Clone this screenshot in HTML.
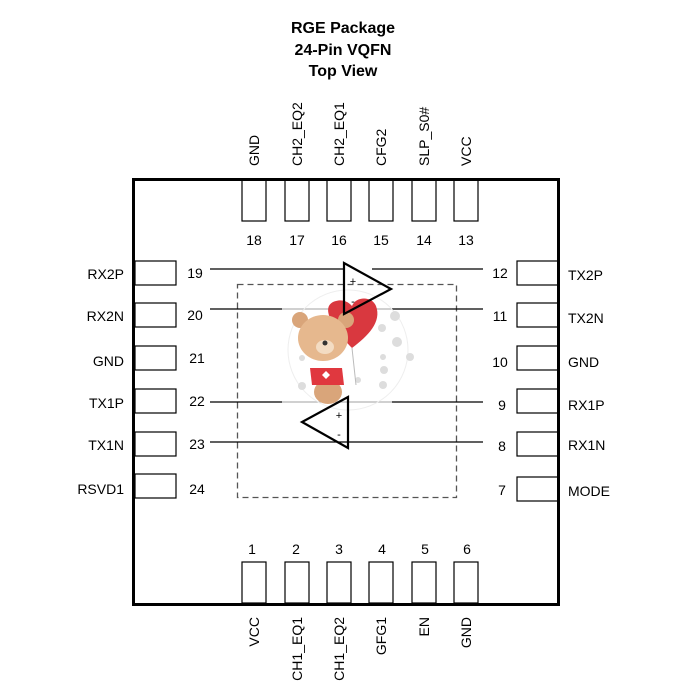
<!DOCTYPE html>
<html><head><meta charset="utf-8"><style>html,body{margin:0;padding:0;background:#fff}svg{display:block}</style></head>
<body>
<svg width="700" height="700" viewBox="0 0 700 700" xmlns="http://www.w3.org/2000/svg" font-family="Liberation Sans, Arial, sans-serif">
<g font-weight="bold" font-size="16" text-anchor="middle" fill="#000">
<text x="343" y="33">RGE Package</text>
<text x="343" y="55">24-Pin VQFN</text>
<text x="343" y="76">Top View</text>
</g>
<rect x="133.5" y="179.5" width="425" height="425" fill="none" stroke="#000" stroke-width="3"/>
<g fill="none" stroke="#000" stroke-width="1.2">
<rect x="242" y="180" width="24" height="41"/><rect x="285" y="180" width="24" height="41"/><rect x="327" y="180" width="24" height="41"/><rect x="369" y="180" width="24" height="41"/><rect x="412" y="180" width="24" height="41"/><rect x="454" y="180" width="24" height="41"/>
<rect x="242" y="562" width="24" height="41"/><rect x="285" y="562" width="24" height="41"/><rect x="327" y="562" width="24" height="41"/><rect x="369" y="562" width="24" height="41"/><rect x="412" y="562" width="24" height="41"/><rect x="454" y="562" width="24" height="41"/>
<rect x="135" y="261" width="41" height="24"/><rect x="135" y="303" width="41" height="24"/><rect x="135" y="346" width="41" height="24"/><rect x="135" y="389" width="41" height="24"/><rect x="135" y="432" width="41" height="24"/><rect x="135" y="474" width="41" height="24"/>
<rect x="517" y="261" width="41" height="24"/><rect x="517" y="303" width="41" height="24"/><rect x="517" y="346" width="41" height="24"/><rect x="517" y="389" width="41" height="24"/><rect x="517" y="432" width="41" height="24"/><rect x="517" y="477" width="41" height="24"/>
</g>
<g font-size="14" fill="#000">
<g text-anchor="middle">
<text x="254" y="245">18</text><text x="297" y="245">17</text><text x="339" y="245">16</text><text x="381" y="245">15</text><text x="424" y="245">14</text><text x="466" y="245">13</text>
<text x="252" y="554">1</text><text x="296" y="554">2</text><text x="339" y="554">3</text><text x="382" y="554">4</text><text x="425" y="554">5</text><text x="467" y="554">6</text>
<text x="195" y="278">19</text><text x="195" y="320">20</text><text x="197" y="363">21</text><text x="197" y="406">22</text><text x="197" y="449">23</text><text x="197" y="494">24</text>
<text x="500" y="278">12</text><text x="500" y="321">11</text><text x="500" y="367">10</text><text x="502" y="410">9</text><text x="502" y="451">8</text><text x="502" y="495">7</text>
</g>
<g text-anchor="end">
<text x="124" y="279">RX2P</text><text x="124" y="321">RX2N</text><text x="124" y="366">GND</text><text x="124" y="408">TX1P</text><text x="124" y="450">TX1N</text><text x="124" y="494">RSVD1</text>
</g>
<g text-anchor="start">
<text x="568" y="280">TX2P</text><text x="568" y="323">TX2N</text><text x="568" y="367">GND</text><text x="568" y="410">RX1P</text><text x="568" y="450">RX1N</text><text x="568" y="496">MODE</text>
</g>
<g text-anchor="start">
<text transform="translate(259,166) rotate(-90)">GND</text>
<text transform="translate(302,166) rotate(-90)">CH2_EQ2</text>
<text transform="translate(344,166) rotate(-90)">CH2_EQ1</text>
<text transform="translate(386,166) rotate(-90)">CFG2</text>
<text transform="translate(429,166) rotate(-90)">SLP_S0#</text>
<text transform="translate(471,166) rotate(-90)">VCC</text>
</g>
<g text-anchor="end">
<text transform="translate(259,617) rotate(-90)">VCC</text>
<text transform="translate(302,617) rotate(-90)">CH1_EQ1</text>
<text transform="translate(344,617) rotate(-90)">CH1_EQ2</text>
<text transform="translate(386,617) rotate(-90)">GFG1</text>
<text transform="translate(429,617) rotate(-90)">EN</text>
<text transform="translate(471,617) rotate(-90)">GND</text>
</g>
</g>
<rect x="237.5" y="284.5" width="219" height="213" fill="none" stroke="#555" stroke-width="1.3" stroke-dasharray="6,4"/>
<g stroke="#000" stroke-width="1.3" fill="none">
<line x1="210" y1="269" x2="344" y2="269"/><line x1="372" y1="269" x2="483" y2="269"/>
<line x1="210" y1="309" x2="483" y2="309"/>
<line x1="210" y1="402" x2="483" y2="402"/>
<line x1="210" y1="442" x2="483" y2="442"/>
</g>
<!-- bear illustration approximation -->
<g>
<rect x="282" y="290" width="110" height="120" fill="#fff" opacity="0.7"/>
<circle cx="348" cy="350" r="60" fill="none" stroke="#eee"/>
<g fill="#ddd"><circle cx="395" cy="316" r="5"/><circle cx="382" cy="328" r="4"/><circle cx="397" cy="342" r="5"/><circle cx="383" cy="357" r="3"/><circle cx="384" cy="370" r="4"/><circle cx="358" cy="380" r="3"/><circle cx="383" cy="385" r="4"/><circle cx="302" cy="358" r="3"/><circle cx="302" cy="386" r="4"/><circle cx="410" cy="357" r="4"/></g>
<path d="M352,348 C330,325 320,305 336,301 C346,298 352,306 352,306 C356,296 372,296 376,306 C382,322 368,336 352,348Z" fill="#d9383f"/>
<line x1="352" y1="348" x2="356" y2="385" stroke="#bbb"/>
<circle cx="300" cy="320" r="8" fill="#d9a57a"/><circle cx="346" cy="320" r="8" fill="#d9a57a"/>
<ellipse cx="323" cy="338" rx="25" ry="23" fill="#e6b88e"/>
<ellipse cx="325" cy="347" rx="9" ry="7" fill="#f3dcc3"/>
<circle cx="325" cy="343" r="2.5" fill="#333"/>
<ellipse cx="328" cy="392" rx="14" ry="12" fill="#d9a57a"/>
<path d="M310,368 L342,368 L344,385 L312,385Z" fill="#e0383f"/>
<path d="M326,371 l-4,4 l4,4 l4,-4z" fill="#fff"/>
</g>
<g stroke="#000" stroke-width="2.2" fill="none">
<polygon points="344,263 344,314 391,289"/>
<polygon points="348,397 348,448 302,422"/>
</g>
<g font-size="11" fill="#000" text-anchor="middle">
<text x="353" y="285">+</text><text x="353" y="305">-</text>
<text x="339" y="419">+</text><text x="339" y="438">-</text>
</g>
</svg>
</body></html>
